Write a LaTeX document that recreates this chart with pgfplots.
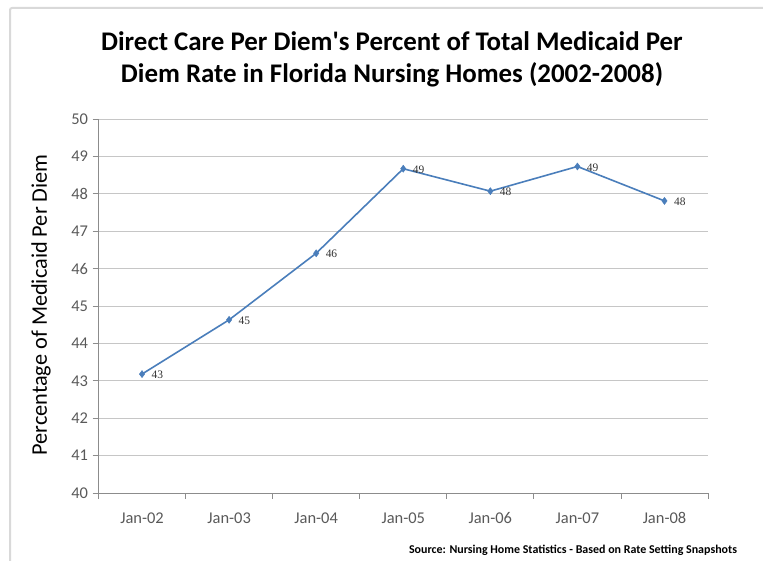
\documentclass[border=0pt]{standalone}
\usepackage{pgfplots}
\pgfplotsset{compat=1.18}
\usepackage{fontspec}
\setmainfont{Carlito}
\newfontfamily\serifnum{Liberation Serif}
\definecolor{linec}{HTML}{4A7EBB}
\definecolor{gridc}{HTML}{C6C6C6}
\definecolor{axc}{HTML}{8C8C8C}
\definecolor{tickc}{HTML}{595959}
\definecolor{framec}{HTML}{D9D9D9}
\begin{document}
\begin{tikzpicture}[x=1bp,y=1bp]
\useasboundingbox (0,0) rectangle (763,561);
\draw[framec, line width=2bp, rounded corners=2bp] (10,0) -- (10,553) -- (763,553);
\begin{axis}[
  at={(98.5bp,68bp)}, anchor=south west,
  scale only axis, width=609.5bp, height=374bp,
  xmin=-0.5, xmax=6.5, ymin=40, ymax=50,
  xtick={0,...,6},
  xticklabels={Jan-02,Jan-03,Jan-04,Jan-05,Jan-06,Jan-07,Jan-08},
  minor xtick={-0.5,0.5,...,6.5},
  ytick={40,41,...,50},
  major x tick style={draw=none},
  minor x tick style={draw=axc, line width=0.8bp},
  major y tick style={draw=axc, line width=0.8bp},
  tick align=outside,
  major tick length=6bp, minor tick length=6bp,
  axis lines*=left,
  axis line style={draw=axc, line width=0.8bp, -},
  ymajorgrids, grid style={gridc, line width=0.9bp},
  tick label style={font=\fontsize{16.5}{18}\selectfont, text=tickc},
  xticklabel style={yshift=-10bp},
  yticklabel style={xshift=-1bp},
  /pgf/number format/assume math mode=true,
  clip=false,
  point meta=y,
  nodes near coords={\pgfmathprintnumber[fixed,precision=0]{\pgfplotspointmeta}},
  every node near coord/.append style={anchor=west, xshift=6bp, yshift=-1bp, font=\serifnum\fontsize{11.5}{12}\selectfont, text=black!80},
]
\addplot[color=linec, line width=1.6bp, mark=diamond*, mark size=3.5bp, mark options={fill=linec, draw=linec, line width=0.5bp}]
coordinates {(0,43.18) (1,44.63) (2,46.41) (3,48.67) (4,48.07) (5,48.73) (6,47.81)};
\end{axis}
\node[font=\bfseries\fontsize{27}{32}\selectfont, align=center] at (392,502) {Direct Care Per Diem\textquotesingle s Percent of Total Medicaid Per\\Diem Rate in Florida Nursing Homes (2002-2008)};
\node[font=\fontsize{22.4}{24}\selectfont, rotate=90] at (41,256) {Percentage of Medicaid Per Diem};
\node[font=\bfseries\fontsize{12}{14}\selectfont] at (573,11) {Source: Nursing Home Statistics - Based on Rate Setting Snapshots};
\end{tikzpicture}
\end{document}
